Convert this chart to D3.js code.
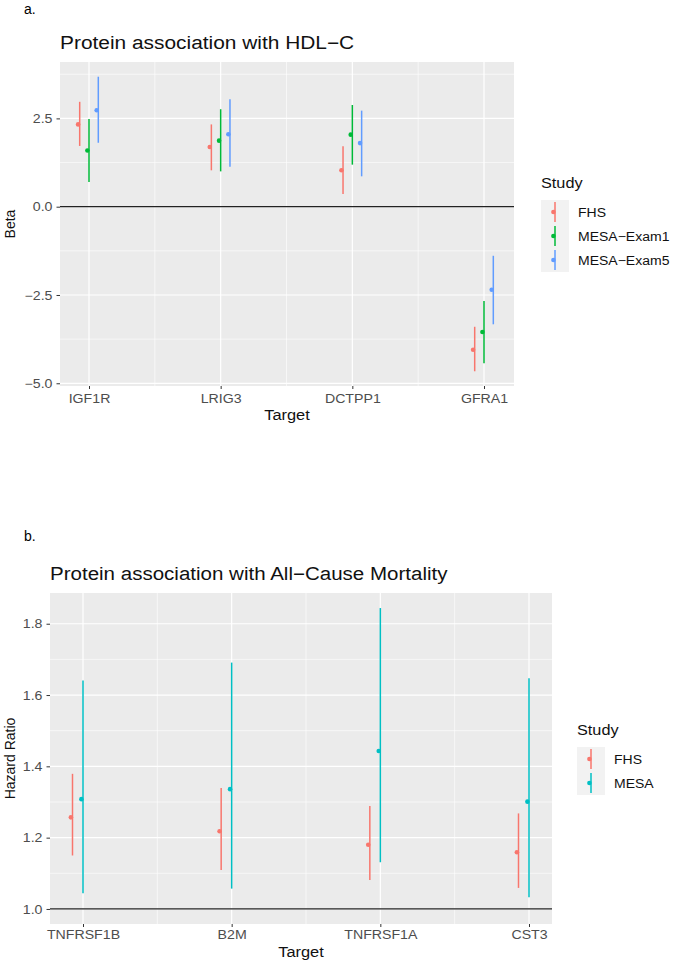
<!DOCTYPE html>
<html>
<head>
<meta charset="utf-8">
<script src="https://cdn.jsdelivr.net/npm/d3@7"></script>
<style>
  body { margin: 0; background: #fff; }
  text { font-family: "Liberation Sans", Arial, sans-serif; }
</style>
</head>
<body>
<svg id="chart" width="673" height="962"></svg>
<script>
// panel a: protein vs HDL-C (beta with CI), one row per study
const hdlTargets = ["IGF1R", "LRIG3", "DCTPP1", "GFRA1"]
const hdlStudies = ["FHS", "MESA\u2212Exam1", "MESA\u2212Exam5"]
const hdlBeta = [[2.33, 1.69, 1.03, -4.05], [1.59, 1.87, 2.04, -3.55], [2.73, 2.05, 1.80, -2.35]]
const hdlLow  = [[1.72, 1.03, 0.36, -4.66], [0.70, 1.00, 1.19, -4.43], [1.81, 1.13, 0.86, -3.33]]
const hdlHigh = [[2.97, 2.33, 1.71, -3.40], [2.48, 2.76, 2.88, -2.67], [3.68, 3.04, 2.72, -1.39]]
const hdlTicks = [-5, -2.5, 0, 2.5]

// panel b: protein vs all-cause mortality (hazard ratio with CI)
const mortTargets = ["TNFRSF1B", "B2M", "TNFRSF1A", "CST3"]
const mortStudies = ["FHS", "MESA"]
const mortHR   = [[1.257, 1.218, 1.180, 1.159], [1.308, 1.336, 1.443, 1.301]]
const mortLow  = [[1.150, 1.109, 1.081, 1.059], [1.044, 1.057, 1.131, 1.033]]
const mortHigh = [[1.379, 1.339, 1.289, 1.268], [1.641, 1.691, 1.844, 1.647]]
const mortTicks = [1.0, 1.2, 1.4, 1.6, 1.8]

const svg = d3.select("#chart")

// the picture is a bit wider than it is tall, so text gets widened a little
function widen(sel, k) {
  sel.each(function () {
    const w = this.getComputedTextLength()
    d3.select(this).attr("textLength", w * k).attr("lengthAdjust", "spacingAndGlyphs")
  })
}

function drawPanel(o) {
  const g = svg.append("g")
  const x = d3.scalePoint().domain(o.targets).range(o.xRange)

  // ggplot style: 5% expansion around the data and the reference line
  const lo = d3.min(o.low.flat().concat([o.ref]))
  const hi = d3.max(o.high.flat().concat([o.ref]))
  const pad = (hi - lo) * 0.05
  const y = d3.scaleLinear().domain([lo - pad, hi + pad]).range([o.bottom, o.top])

  g.append("rect")
    .attr("x", o.left).attr("y", o.top)
    .attr("width", o.right - o.left).attr("height", o.bottom - o.top)
    .attr("fill", "#ebebeb")

  // minor grid lines halfway between majors
  const minorY = d3.pairs(o.ticks).map(p => (p[0] + p[1]) / 2)
  const step = o.ticks[1] - o.ticks[0]
  const topMinor = o.ticks[o.ticks.length - 1] + step / 2
  if (topMinor < y.domain()[1]) minorY.push(topMinor)
  g.selectAll(".minY").data(minorY).enter().append("line")
    .attr("x1", o.left).attr("x2", o.right)
    .attr("y1", d => y(d)).attr("y2", d => y(d))
    .attr("stroke", "#fff").attr("stroke-width", 0.6)
  const minorX = d3.pairs(o.targets).map(p => (x(p[0]) + x(p[1])) / 2)
  g.selectAll(".minX").data(minorX).enter().append("line")
    .attr("x1", d => d).attr("x2", d => d)
    .attr("y1", o.top).attr("y2", o.bottom)
    .attr("stroke", "#fff").attr("stroke-width", 0.6)

  g.selectAll(".majY").data(o.ticks).enter().append("line")
    .attr("x1", o.left).attr("x2", o.right)
    .attr("y1", d => y(d)).attr("y2", d => y(d))
    .attr("stroke", "#fff").attr("stroke-width", 1.2)
  g.selectAll(".majX").data(o.targets).enter().append("line")
    .attr("x1", d => x(d)).attr("x2", d => x(d))
    .attr("y1", o.top).attr("y2", o.bottom)
    .attr("stroke", "#fff").attr("stroke-width", 1.2)

  // reference line
  g.append("line")
    .attr("x1", o.left).attr("x2", o.right)
    .attr("y1", y(o.ref)).attr("y2", y(o.ref))
    .attr("stroke", "#222").attr("stroke-width", 1.2)

  // point ranges
  o.studies.forEach((s, si) => {
    const sg = g.append("g")
    const rows = o.targets.map((t, i) => ({ t: t, v: o.est[si][i], lo: o.low[si][i], hi: o.high[si][i] }))
    sg.selectAll("line").data(rows).enter().append("line")
      .attr("x1", d => x(d.t) + o.dodge[si]).attr("x2", d => x(d.t) + o.dodge[si])
      .attr("y1", d => y(d.lo)).attr("y2", d => y(d.hi))
      .attr("stroke", o.colors[si]).attr("stroke-width", 1.5)
    sg.selectAll("circle").data(rows).enter().append("circle")
      .attr("cx", d => x(d.t) + o.dodge[si] - 1.6).attr("cy", d => y(d.v))
      .attr("r", 2.3).attr("fill", o.colors[si])
  })

  // y axis
  const yAxis = g.append("g").attr("transform", `translate(${o.left},0)`)
    .call(d3.axisLeft(y).tickValues(o.ticks).tickFormat(d3.format(".1f")).tickSize(3.5).tickPadding(4))
  yAxis.select(".domain").remove()
  yAxis.selectAll("line").attr("stroke", "#333")
  yAxis.selectAll("text").attr("fill", "#4d4d4d").attr("font-size", 12)
    .attr("font-family", "Liberation Sans, Arial, sans-serif").attr("dy", "0.34em")
    .text(d => d3.format(".1f")(d).replace("-", "\u2212"))
  widen(yAxis.selectAll("text"), 1.18)

  // x axis
  const xAxis = g.append("g").attr("transform", `translate(0,${o.bottom})`)
    .call(d3.axisBottom(x).tickSize(3).tickPadding(2))
  xAxis.select(".domain").remove()
  xAxis.selectAll("line").attr("stroke", "#333")
  xAxis.selectAll("text").attr("fill", "#4d4d4d").attr("font-size", 12)
    .attr("font-family", "Liberation Sans, Arial, sans-serif")
    .attr("y", 0).attr("dy", 0).attr("transform", `translate(0,${o.tickBase - o.bottom})`)
  widen(xAxis.selectAll("text"), 1.18)

  // titles
  const tt = g.append("text").attr("x", o.left).attr("y", o.titleY)
    .attr("font-size", 18).attr("fill", "#111").text(o.title)
  widen(tt, o.titleStretch)
  g.append("text").attr("x", 24).attr("y", o.tagY)
    .attr("font-size", 14).attr("fill", "#000").text(o.tag)
  const xt = g.append("text").attr("x", (o.left + o.right) / 2).attr("y", o.xTitleY)
    .attr("text-anchor", "middle").attr("font-size", 14).attr("fill", "#111").text("Target")
  widen(xt, 1.17)
  g.append("text")
    .attr("transform", `translate(15,${(o.top + o.bottom) / 2}) rotate(-90)`)
    .attr("text-anchor", "middle").attr("font-size", 14).attr("fill", "#111").text(o.yTitle)

  // legend
  const lg = g.append("g").attr("transform", `translate(${o.legX},${o.legY})`)
  const lt = lg.append("text").attr("x", 0).attr("y", 0)
    .attr("font-size", 14.5).attr("fill", "#111").text("Study")
  widen(lt, 1.12)
  lg.append("rect").attr("x", 0).attr("y", 12)
    .attr("width", 28).attr("height", 24 * o.studies.length)
    .attr("fill", "#f2f2f2")
  o.studies.forEach((s, si) => {
    const cy = 24 + 24 * si
    lg.append("line").attr("x1", 14).attr("x2", 14)
      .attr("y1", cy - 10).attr("y2", cy + 10)
      .attr("stroke", o.colors[si]).attr("stroke-width", 1.5)
    lg.append("circle").attr("cx", 12.4).attr("cy", cy).attr("r", 2.3).attr("fill", o.colors[si])
    const lbl = lg.append("text").attr("x", 37).attr("y", cy + 4.5)
      .attr("font-size", 12.5).attr("fill", "#111").text(s)
    widen(lbl, 1.12)
  })
}

drawPanel({
  targets: hdlTargets, studies: hdlStudies,
  est: hdlBeta, low: hdlLow, high: hdlHigh, ticks: hdlTicks, ref: 0,
  colors: ["#F8766D", "#00BA38", "#619CFF"], dodge: [-9.3, 0, 9.3],
  left: 60, right: 514, top: 62, bottom: 386, xRange: [89, 484],
  tickBase: 403, xTitleY: 420, titleY: 49, tagY: 14, tag: "a.", titleStretch: 1.16,
  title: "Protein association with HDL\u2212C", yTitle: "Beta",
  legX: 541, legY: 188
})

drawPanel({
  targets: mortTargets, studies: mortStudies,
  est: mortHR, low: mortLow, high: mortHigh, ticks: mortTicks, ref: 1,
  colors: ["#F8766D", "#00BFC4"], dodge: [-10.5, 0],
  left: 50, right: 552, top: 593, bottom: 924, xRange: [83, 529],
  tickBase: 939, xTitleY: 957, titleY: 580, tagY: 541, tag: "b.", titleStretch: 1.14,
  title: "Protein association with All\u2212Cause Mortality", yTitle: "Hazard Ratio",
  legX: 577, legY: 735
})
</script>
</body>
</html>
